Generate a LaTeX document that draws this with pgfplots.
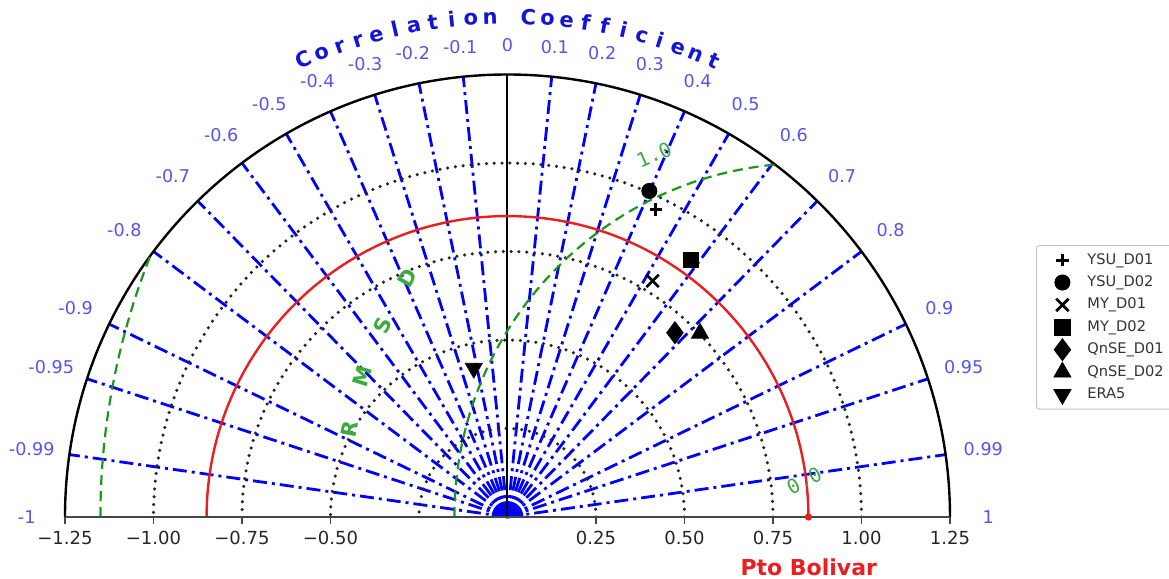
\documentclass[border=0pt]{standalone}
\usepackage{pgfplots}
\pgfplotsset{compat=1.18}
\usetikzlibrary{calc}
\usepackage{fontspec}
\setmainfont{DejaVu Sans}
\newfontfamily\monofont{DejaVu Sans Mono}
\definecolor{lblue}{RGB}{85,85,235}
\definecolor{tblue}{RGB}{20,20,215}
\definecolor{rgreen}{RGB}{30,150,30}
\definecolor{lgreen}{RGB}{60,170,60}
\definecolor{refred}{RGB}{235,30,30}
\definecolor{axgray}{RGB}{70,70,70}

\begin{document}
\begin{tikzpicture}
% Taylor-diagram grid, one data unit = 177pt, origin at (0,0)
\begin{scope}[x=177pt, y=177pt]
  % correlation rays
  \foreach \v in {-0.99,-0.95,-0.9,-0.8,-0.7,-0.6,-0.5,-0.4,-0.3,-0.2,-0.1,
                  0.1,0.2,0.3,0.4,0.5,0.6,0.7,0.8,0.9,0.95,0.99}{
    \pgfmathsetmacro\ang{acos(\v)}
    \draw[blue, line width=1.4pt, dash pattern=on 7pt off 2.5pt on 1.5pt off 2.5pt] (0,0) -- (\ang:1.25);
  }
  \fill[blue] (0.045,0) arc[start angle=0, end angle=180, radius=0.045] -- cycle;
  % standard deviation circles
  \foreach \r in {0.25,0.5,0.75,1.0}{
    \draw[black!85, line width=1.75pt, line cap=round, dash pattern=on 0pt off 3.9pt]
      (\r,0) arc[start angle=0, end angle=180, radius=\r];
  }
  % zero-correlation line and outer rim
  \draw[black, line width=1pt] (0,0) -- (0,1.25);
  \draw[black, line width=1.2pt] (1.25,0) arc[start angle=0, end angle=180, radius=1.25];
  % reference standard deviation
  \draw[refred, line width=1.2pt] (0.85,0) arc[start angle=0, end angle=180, radius=0.85];
  % centred RMS difference contours
  \draw[rgreen, line width=1.1pt, dash pattern=on 5pt off 3pt]
    (-0.15,0) arc[start angle=180, end angle=95.4, radius=1.0];
  \draw[rgreen, line width=1.1pt, dash pattern=on 5pt off 3pt]
    (-1.15,0) arc[start angle=180, end angle=158.3, radius=2.0];
  % correlation labels
  \foreach \v/\t in {-1/-1,-0.99/-0.99,-0.95/-0.95,-0.9/-0.9,-0.8/-0.8,-0.7/-0.7,-0.6/-0.6,
                     -0.5/-0.5,-0.4/-0.4,-0.3/-0.3,-0.2/-0.2,-0.1/-0.1,0/0,0.1/0.1,0.2/0.2,
                     0.3/0.3,0.4/0.4,0.5/0.5,0.6/0.6,0.7/0.7,0.8/0.8,0.9/0.9,0.95/0.95,0.99/0.99,1/1}{
    \pgfmathsetmacro\ang{acos(\v)}
    \pgfmathsetmacro\rr{1.333+0.025*abs(\v)}
    \node[text=lblue, font=\fontsize{8.8}{9}\selectfont, inner sep=0pt] at (\ang:\rr) {\t};
  }
  % curved title
  \foreach \ch [count=\i from 0] in {C,o,r,r,e,l,a,t,i,o,n,{},C,o,e,f,f,i,c,i,e,n,t}{
    \pgfmathsetmacro\a{114-2.2*\i}
    \node[text=tblue, font=\fontsize{10.5}{11}\selectfont\bfseries, rotate=\a-90, anchor=base, inner sep=0pt]
      at (\a:1.393) {\ch};
  }
  % RMSD labels
  \foreach \ch/\a in {R/169.2, M/162.5, S/155.8, D/149.2}{
    \node[text=lgreen, font=\fontsize{10.5}{11}\selectfont\bfseries, rotate=\a-90, inner sep=0pt]
      at ($(0.85,0)+(\a:1.32)$) {\ch};
  }
  \node[text=lgreen, font=\fontsize{10}{11}\selectfont\monofont, rotate=23, inner sep=0pt] at (0.414,1.023) {1.0};
  \node[text=lgreen, font=\fontsize{10}{11}\selectfont\monofont, rotate=27, inner sep=0pt] at (0.838,0.103) {0.0};
  % x label
  \node[text=refred, font=\fontsize{11}{12}\selectfont\bfseries] at (0.851,-0.143) {Pto Bolivar};
\end{scope}

\begin{axis}[
  at={(-221.25pt,0pt)}, anchor=south west,
  x=177pt, y=177pt,
  xmin=-1.25, xmax=1.25, ymin=0, ymax=1.25,
  axis x line*=bottom, axis y line=none,
  clip=false,
  xtick={-1.25,-1,-0.75,-0.5,0.25,0.5,0.75,1,1.25},
  xticklabels={−1.25,−1.00,−0.75,−0.50,0.25,0.50,0.75,1.00,1.25},
  ytick=\empty,
  tick align=outside, major tick length=3.5pt,
  x axis line style={axgray, line width=1pt},
  every tick/.style={axgray, line width=0.8pt},
  xticklabel style={font=\fontsize{9}{10}\selectfont, text=black!85},
  legend style={at={(axis cs:1.493,0.768)}, anchor=north west, draw=black!25,
    rounded corners=1.5pt, font=\fontsize{7.3}{8}\selectfont, text=black!80,
    inner xsep=4.5pt, inner ysep=1.7pt, row sep=0pt,
    nodes={inner sep=0pt}},
  legend cell align=left,
  legend image code/.code={
    \path[use as bounding box, draw=none, fill=none] (0pt,-5.6pt) rectangle (21pt,5.6pt);
    \pgfinterruptboundingbox
    \draw[mark repeat=2,mark phase=2,#1] plot coordinates {(0pt,0pt) (8.5pt,0pt) (17pt,0pt)};
    \endpgfinterruptboundingbox
  },
]
\addplot[only marks, mark=+, mark size=3.1pt, line width=1.4pt, black] coordinates {(0.419,0.869)};
\addlegendentry{YSU\_D01}
\addplot[only marks, mark=*, mark size=3.8pt, black] coordinates {(0.4006,0.921)};
\addlegendentry{YSU\_D02}
\addplot[only marks, mark=x, mark size=4.4pt, line width=1.4pt, black] coordinates {(0.410,0.667)};
\addlegendentry{MY\_D01}
\addplot[only marks, mark=square*, mark size=3.8pt, black] coordinates {(0.5175,0.726)};
\addlegendentry{MY\_D02}
\addplot[only marks, mark=diamond*, mark size=5.5pt, black] coordinates {(0.473,0.5206)};
\addlegendentry{QnSE\_D01}
\addplot[only marks, mark=triangle*, mark size=4.9pt, black] coordinates {(0.5438,0.5192)};
\addlegendentry{QnSE\_D02}
\addplot[only marks, mark=triangle*, mark options={rotate=180}, mark size=4.9pt, black] coordinates {(-0.0952,0.4203)};
\addlegendentry{ERA5}
% reference point
\addplot[only marks, mark=*, mark size=1.6pt, refred, forget plot] coordinates {(0.85,0)};
\end{axis}
\pgfresetboundingbox
\path (-253.75pt,-31pt) rectangle (330.75pt,258.5pt);
\end{tikzpicture}
\end{document}
